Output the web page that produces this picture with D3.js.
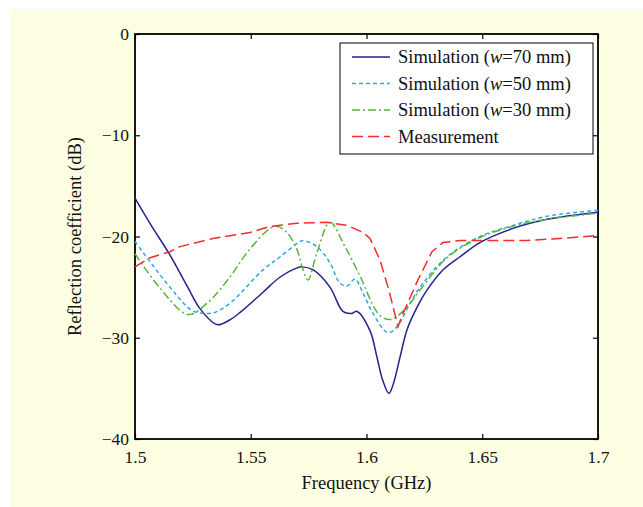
<!DOCTYPE html>
<html>
<head>
<meta charset="utf-8">
<script src="https://cdn.jsdelivr.net/npm/d3@7"></script>
<style>
  body { margin: 0; background: #fff; }
  text { font-family: "Liberation Serif", "Times New Roman", serif; fill: #111; }
</style>
</head>
<body>
<div id="chart"></div>
<script>
// frequency (GHz), reflection coefficient (dB)
var sim70 = [[1.5,-16.2],[1.507,-18.9],[1.515,-21.8],[1.523,-25.1],[1.528,-27.1],[1.5354,-28.7],[1.5405,-28.3],
  [1.5454,-27.5],[1.5553,-25.5],[1.5627,-24.0],[1.570,-23.1],[1.5721,-23.0],[1.577,-23.3],[1.5842,-25.0],
  [1.5898,-27.4],[1.5935,-27.6],[1.5959,-27.4],[1.6015,-29.3],[1.6045,-31.9],[1.607,-34.2],[1.6097,-35.5],
  [1.6114,-34.7],[1.6145,-31.9],[1.6175,-29.2],[1.6218,-27.0],[1.6261,-25.3],[1.633,-23.3],[1.6404,-22.0],
  [1.649,-20.6],[1.6633,-19.2],[1.678,-18.3],[1.7,-17.6]];
var sim50 = [[1.5,-20.5],[1.5151,-25.0],[1.5246,-27.3],[1.5302,-27.6],[1.5345,-27.5],[1.541,-26.6],[1.5553,-23.3],
  [1.5627,-22.0],[1.5713,-20.5],[1.5726,-20.4],[1.5786,-21.0],[1.5842,-22.6],[1.5885,-24.6],[1.5916,-24.9],
  [1.595,-24.2],[1.5985,-25.6],[1.6028,-27.6],[1.6093,-29.5],[1.6132,-28.9],[1.6188,-26.6],[1.6244,-24.6],
  [1.6348,-22.0],[1.649,-20.0],[1.6633,-18.9],[1.678,-18.0],[1.7,-17.4]];
var sim30 = [[1.5,-21.7],[1.5108,-25.1],[1.5229,-27.7],[1.5311,-26.6],[1.541,-24.0],[1.5484,-21.6],[1.5583,-19.2],
  [1.5613,-19.0],[1.5656,-19.6],[1.570,-21.3],[1.5726,-23.3],[1.5747,-24.3],[1.5786,-21.6],[1.5842,-18.6],
  [1.5907,-21.0],[1.598,-24.3],[1.6024,-26.6],[1.6058,-27.8],[1.6102,-28.2],[1.6162,-27.3],[1.6231,-25.3],
  [1.6348,-22.1],[1.649,-20.1],[1.6633,-19.0],[1.678,-18.3],[1.7,-17.7]];
var measured = [[1.5,-23.0],[1.5065,-22.1],[1.5151,-21.5],[1.5194,-21.0],[1.5337,-20.2],[1.5497,-19.6],[1.5583,-19.0],
  [1.570,-18.7],[1.5829,-18.6],[1.5916,-18.9],[1.5985,-19.6],[1.6015,-20.2],[1.6058,-22.3],[1.6093,-25.0],
  [1.6132,-28.5],[1.6136,-28.9],[1.6158,-27.6],[1.6222,-24.3],[1.6283,-21.5],[1.633,-20.6],[1.6404,-20.4],
  [1.649,-20.4],[1.6693,-20.4],[1.6836,-20.2],[1.7,-19.9]];

var xTicks = [1.5, 1.55, 1.6, 1.65, 1.7];
var yTicks = [0, -10, -20, -30, -40];
var legendNames = ["70", "50", "30", "Measurement"];

var width = 643, height = 507;
var margin = { top: 34, right: 45, bottom: 68, left: 135 };
var w = width - margin.left - margin.right,
    h = height - margin.top - margin.bottom;

var svg = d3.select("#chart").append("svg")
    .attr("width", width)
    .attr("height", height);

svg.append("rect")
    .attr("x", 10).attr("y", 9)
    .attr("width", width - 10).attr("height", height - 9)
    .attr("fill", "#fefee3");

var g = svg.append("g")
    .attr("transform", "translate(" + margin.left + "," + margin.top + ")");

var x = d3.scaleLinear().domain([1.5, 1.7]).range([0, w]);
var y = d3.scaleLinear().domain([-40, 0]).range([h, 0]);

g.append("rect")
    .attr("width", w).attr("height", h)
    .attr("fill", "#fff");

var minus = function (d) { return d < 0 ? "\u2212" + Math.abs(d) : d; };

// axes, ticks pointing inwards like matlab
var xAxis = d3.axisBottom(x).tickValues(xTicks).tickSizeInner(-5).tickSizeOuter(0).tickPadding(12).tickFormat(d3.format(""));
var yAxis = d3.axisLeft(y).tickValues(yTicks).tickSizeInner(-5).tickSizeOuter(0).tickPadding(6).tickFormat(minus);

g.append("g").attr("class", "x axis")
    .attr("transform", "translate(0," + h + ")")
    .call(xAxis);
g.append("g").attr("class", "y axis")
    .call(yAxis);
g.append("g").attr("class", "x2 axis")
    .call(d3.axisTop(x).tickValues(xTicks).tickSizeInner(-5).tickSizeOuter(0).tickFormat(""));
g.append("g").attr("class", "y2 axis")
    .attr("transform", "translate(" + w + ",0)")
    .call(d3.axisRight(y).tickValues(yTicks).tickSizeInner(-5).tickSizeOuter(0).tickFormat(""));

g.selectAll(".axis path").remove();
g.selectAll(".axis line").attr("stroke", "#000").attr("stroke-width", 1.2);
g.selectAll(".axis text")
    .style("font-family", "'Liberation Serif', serif")
    .style("font-size", "17.5px")
    .attr("fill", "#111");

g.append("rect")
    .attr("width", w).attr("height", h)
    .attr("fill", "none")
    .attr("stroke", "#000")
    .attr("stroke-width", 1.8);

var line = d3.line()
    .x(function (d) { return x(d[0]); })
    .y(function (d) { return y(d[1]); })
    .curve(d3.curveCatmullRom.alpha(0.5));
var lineStraight = d3.line()
    .x(function (d) { return x(d[0]); })
    .y(function (d) { return y(d[1]); });

var series = [
    { data: sim70, color: "#23238e", dash: null, gen: line },
    { data: sim50, color: "#2ea8d6", dash: "4,3", gen: line },
    { data: sim30, color: "#5bb33c", dash: "8,3,2,3", gen: line },
    { data: measured, color: "#f52a2a", dash: "11,5", gen: lineStraight }
];

series.forEach(function (s) {
    g.append("path")
        .attr("d", s.gen(s.data))
        .attr("fill", "none")
        .attr("stroke", s.color)
        .attr("stroke-width", 1.5)
        .attr("stroke-dasharray", s.dash);
});

// legend
var legend = svg.append("g").attr("transform", "translate(340,43)");
legend.append("rect")
    .attr("width", 253).attr("height", 111)
    .attr("fill", "#fff").attr("stroke", "#000").attr("stroke-width", 1);

series.forEach(function (s, i) {
    var yy = 14 + i * 26.5;
    legend.append("line")
        .attr("x1", 12).attr("x2", 50)
        .attr("y1", yy).attr("y2", yy)
        .attr("stroke", s.color).attr("stroke-width", 1.5)
        .attr("stroke-dasharray", s.dash);
    var t = legend.append("text")
        .attr("x", 58).attr("y", yy)
        .attr("dy", "0.35em")
        .style("font-size", "18.5px");
    if (i < 3) {
        t.append("tspan").text("Simulation (");
        t.append("tspan").style("font-style", "italic").text("w");
        t.append("tspan").text("=" + legendNames[i] + " mm)");
    } else {
        t.text(legendNames[i]);
    }
});

svg.append("text")
    .attr("x", margin.left + w / 2)
    .attr("y", 489)
    .attr("text-anchor", "middle")
    .style("font-size", "18.5px")
    .text("Frequency (GHz)");

svg.append("text")
    .attr("transform", "translate(81," + (margin.top + h / 2) + ") rotate(-90)")
    .attr("text-anchor", "middle")
    .style("font-size", "18.5px")
    .text("Reflection coefficient (dB)");
</script>
</body>
</html>
